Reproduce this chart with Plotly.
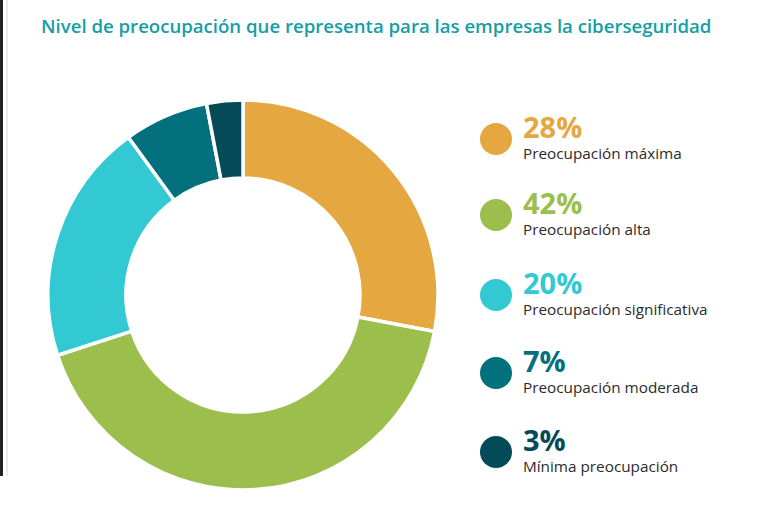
import plotly.graph_objects as go

title = "Nivel de preocupación que representa para las empresas la ciberseguridad"
categories = ["Preocupación máxima", "Preocupación alta", "Preocupación significativa",
              "Preocupación moderada", "Mínima preocupación"]
values = [28, 42, 20, 7, 3]
colors = ["#E5A73F", "#9BBE4C", "#33C9D2", "#03707E", "#044B57"]

W, H = 762, 505
cx, cy, R = 243, 295, 195

fig = go.Figure()
fig.add_trace(go.Pie(
    values=values, labels=categories, sort=False, direction="clockwise", rotation=0,
    hole=0.6, textinfo="none", hoverinfo="label+percent",
    marker=dict(colors=colors, line=dict(color="white", width=3.5)),
    domain=dict(x=[(cx - R) / W, (cx + R) / W], y=[(H - cy - R) / H, (H - cy + R) / H]),
    showlegend=False,
))

# legend rows
row_y = [139, 215, 295, 373, 452]
fig.add_trace(go.Scatter(
    x=[496] * len(values), y=row_y, mode="markers",
    marker=dict(size=32, color=colors, line=dict(width=0)),
    xaxis="x", yaxis="y", showlegend=False, hoverinfo="skip",
))

ann = []
for v, c, lab, y in zip(values, colors, categories, row_y):
    ann.append(dict(x=521, y=y - 13, text=f"<b>{v}%</b>", showarrow=False, xanchor="left",
                    yanchor="middle", xref="x", yref="y",
                    font=dict(family="Open Sans", size=29, color=c, weight=800)))
    ann.append(dict(x=521, y=y + 14, text=lab, showarrow=False, xanchor="left",
                    yanchor="middle", xref="x", yref="y",
                    font=dict(family="Open Sans", size=15.3, color="#2b2b2b")))
ann.append(dict(x=39, y=25, text=title, showarrow=False, xanchor="left", yanchor="middle",
                xref="x", yref="y",
                font=dict(family="Open Sans", size=18.6, color="#159EA4", weight=600)))

fig.update_layout(
    width=W, height=H, margin=dict(l=0, r=0, t=0, b=0),
    paper_bgcolor="white", plot_bgcolor="rgba(0,0,0,0)",
    xaxis=dict(range=[0, W], visible=False, fixedrange=True, domain=[0, 1]),
    yaxis=dict(range=[H, 0], visible=False, fixedrange=True, domain=[0, 1]),
    annotations=ann,
    shapes=[
        dict(type="rect", xref="x", yref="y", x0=0, x1=3, y0=0, y1=476,
             fillcolor="#222222", line=dict(width=0), layer="above"),
        dict(type="line", xref="x", yref="y", x0=7, x1=7, y0=0, y1=476,
             line=dict(color="#d8d8d8", width=1), layer="above"),
    ],
)

fig.write_html("out.html", config={"displayModeBar": False},
               post_script="document.body.style.margin='0';document.body.style.overflow='hidden';")
